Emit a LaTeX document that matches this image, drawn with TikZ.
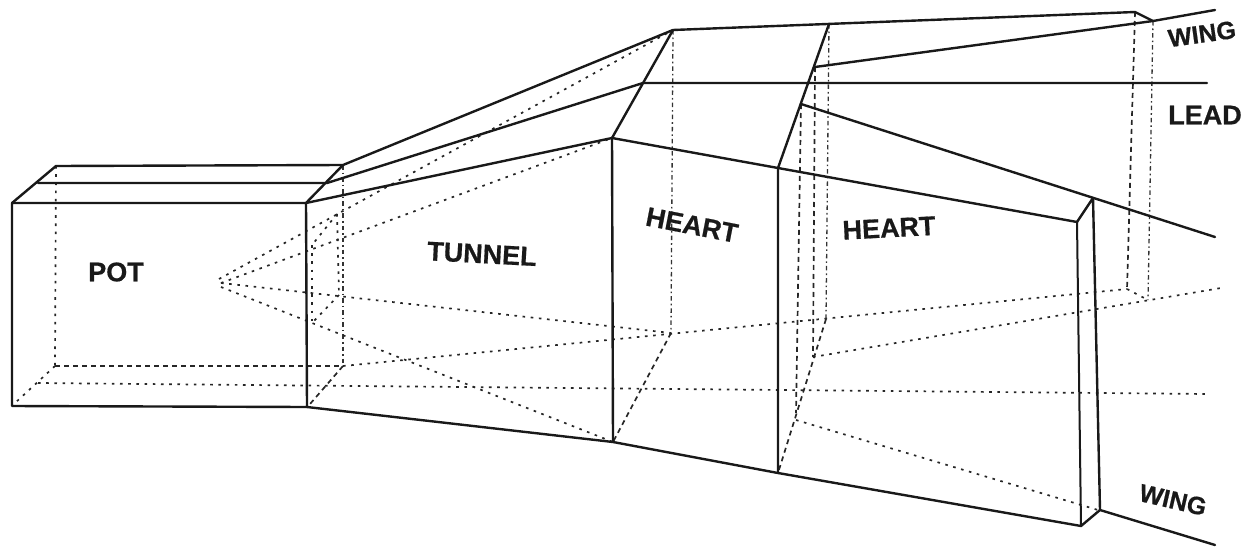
\documentclass[tikz,border=0pt]{standalone}
\usepackage{fontspec}
\setmainfont[BoldFeatures={FakeBold=0.6}]{Liberation Sans}
\tikzset{
  edge/.style={draw=black!90,line width=2.4pt,line cap=round,line join=round},
  fine/.style={draw=black!90,line width=2pt,line cap=round,line join=round},
  dots/.style={draw=black!85,line width=1.7pt,dash pattern=on 2.6pt off 5.6pt},
  longdots/.style={draw=black!85,line width=1.7pt,dash pattern=on 5pt off 4pt},
  hidden/.style={draw=black!80,line width=1.3pt,dash pattern=on 4.5pt off 3pt on 1.6pt off 3pt},
  lab/.style={font=\fontsize{27}{27}\selectfont\bfseries,text=black!90,inner sep=0pt}
}
\begin{document}
\begin{tikzpicture}[x=1pt,y=-1pt]
\useasboundingbox (0,0) rectangle (1244,546);
% pot
\coordinate (ptl) at (12,203); \coordinate (ptr) at (306,203);
\coordinate (pbr) at (307,407); \coordinate (pbl) at (12,406);
\coordinate (bktl) at (56,166); \coordinate (bktr) at (343,165);
\coordinate (mdtl) at (38,183); \coordinate (mdtr) at (327,183);
\coordinate (bkbl) at (55,366); \coordinate (bkbr) at (343,366);
\coordinate (mdbl) at (38,383); \coordinate (mdr) at (1207,394);
\coordinate (pbli) at (15,403); \coordinate (pbri) at (310,404);
% tunnel / heart corners
\coordinate (t1) at (673,30); \coordinate (t2) at (643,83); \coordinate (t3) at (612,138);
\coordinate (h1) at (829,24); \coordinate (h2) at (815,67); \coordinate (h3) at (801,104); \coordinate (h4) at (778,168);
\coordinate (w1) at (1135,12); \coordinate (w2) at (1153,21); \coordinate (w3) at (1215,10);
\coordinate (lr) at (1207,83); \coordinate (fr) at (1215,237);
\coordinate (f1) at (1077,222); \coordinate (f2) at (1093,198);
\coordinate (f3) at (1081,526); \coordinate (f4) at (1100,510); \coordinate (w4) at (1215,545);
\coordinate (b1) at (613,442); \coordinate (b2) at (778,473);
% apexes
\coordinate (a1) at (219,279); \coordinate (a2) at (221,283); \coordinate (a3) at (221,287);
% hidden corners
\coordinate (i1) at (671,333); \coordinate (i2) at (826,319);
\coordinate (i3) at (813,357); \coordinate (i4) at (796,413); \coordinate (i5) at (796,420);
\coordinate (i6) at (1127,289); \coordinate (i7) at (1148,300); \coordinate (i8) at (1221,288);
\coordinate (i9) at (1098,510);
\coordinate (n1) at (337,214); \coordinate (n2) at (312,245); \coordinate (n3) at (339,295); \coordinate (n4) at (312,323);
% hidden lines
\draw[hidden] (bktr) -- (bkbr);
\draw[dots] (bktl) -- (bkbl);
\draw[dots] (bkbl) -- (pbli);
\draw[longdots] (bkbl) -- (bkbr);
\draw[dots] (mdbl) -- (mdr);
\draw[longdots] (bkbr) -- (pbri);
\draw[dots] (n1) -- (n3);
\draw[dots] (n2) -- (n4);
\draw[dots] (n1) -- (n2);
\draw[dots] (n3) -- (n4);
\draw[dots] (a1) -- (t1);
\draw[dots] (a2) -- (t3);
\draw[dots] (a2) -- (i1);
\draw[dots] (a3) -- (b1);
\draw[dots] (bkbr) -- (i6);
\draw[dots] (i3) -- (i8);
\draw[dots] (i5) -- (i9);
\draw[dots] (i6) -- (i7);
\draw[hidden] (t1) -- (i1);
\draw[longdots] (i1) -- (b1);
\draw[hidden] (h1) -- (i2);
\draw[longdots] (i2) -- (b2);
\draw[longdots] (h2) -- (i3);
\draw[longdots] (h3) -- (i4);
\draw[longdots] (w1) -- (i6);
\draw[hidden] (w2) -- (i7);
% solid outline
\draw[edge] (ptl) -- (ptr) -- (pbr) -- (pbl) -- cycle;
\draw[edge] (ptl) -- (bktl) -- (bktr) -- (t1) -- (w1) -- (w2) -- (w3);
\draw[edge] (mdtl) -- (mdtr) -- (t2) -- (lr);
\draw[edge] (ptr) -- (bktr);
\draw[edge] (ptr) -- (t3) -- (h4) -- (f1);
\draw[edge] (t1) -- (t3);
\draw[edge] (t3) -- (b1);
\draw[edge] (h1) -- (h4) -- (b2);
\draw[edge] (h2) -- (w2);
\draw[edge] (h3) -- (fr);
\draw[edge] (pbr) -- (b1) -- (b2) -- (f3) -- (f4) -- (w4);
\draw[fine] (f1) -- (f3);
\draw[edge] (f1) -- (f2) -- (f4);
% labels
\node[lab] (pot) at (116,272) {POT};
\node[lab,rotate=-3] (tunnel) at (482,254) {TUNNEL};
\node[lab,rotate=-11] (heartA) at (692,225) {HEART};
\node[lab,rotate=3] (heartB) at (889,228) {HEART};
\node[lab,font=\fontsize{25}{25}\selectfont\bfseries,rotate=8] (wingA) at (1202,34) {WING};
\node[lab] (lead) at (1205,115) {LEAD};
\node[lab,font=\fontsize{25}{25}\selectfont\bfseries,rotate=-13] (wingB) at (1173,500) {WING};
\end{tikzpicture}
\end{document}
